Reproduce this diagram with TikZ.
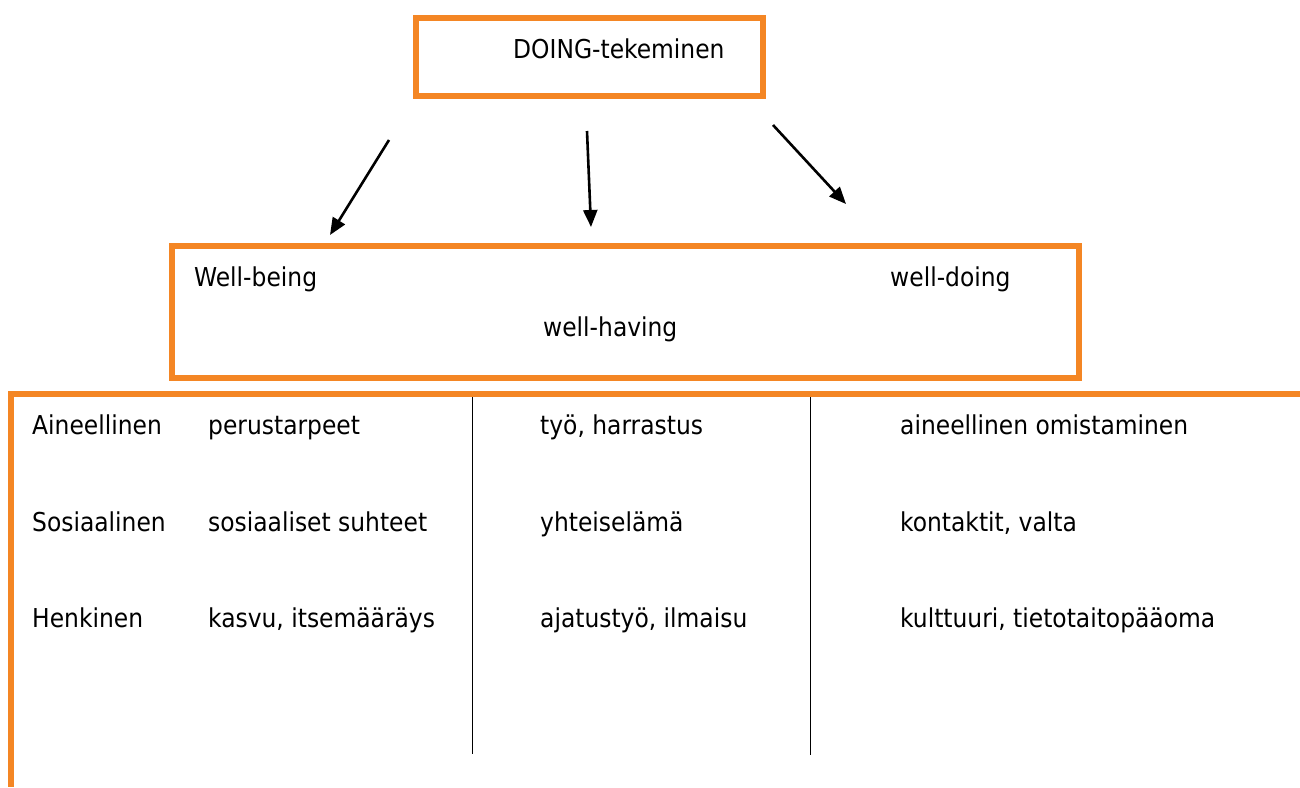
\documentclass[tikz,border=0pt]{standalone}
\usepackage{fontspec}
\setmainfont{DejaVu Sans Condensed}
\usetikzlibrary{arrows.meta}
\definecolor{boxorange}{RGB}{244,134,36}
\tikzset{
  obox/.style={draw=boxorange, line width=6pt, rectangle, inner sep=0pt},
  lbl/.style={anchor=base west, inner sep=0pt, font=\fontsize{26pt}{30pt}\selectfont},
  arr/.style={line width=2.6pt, -{Triangle[length=17pt,width=14pt]}},
  oline/.style={draw=boxorange, line width=6pt},
  bline/.style={draw=black, line width=1.4pt},
}
\begin{document}
\begin{tikzpicture}[x=1pt,y=-1pt]
\useasboundingbox (0,0) rectangle (1300,787);
% top box
\node[obox, minimum width=347.5pt, minimum height=78pt] (top) at (589.25,57) {};
\node[lbl] (doing) at (513,58) {DOING-tekeminen};
% middle box
\node[obox, minimum width=907.5pt, minimum height=132pt] (mid) at (625.25,312) {};
\node[lbl] (wb) at (194,286) {Well-being};
\node[lbl] (wd) at (890,286) {well-doing};
\node[lbl] (wh) at (543,336) {well-having};
% arrows
\coordinate (a1s) at (389,140);
\coordinate (a1e) at (330,235);
\coordinate (a2s) at (587,131);
\coordinate (a2e) at (591,227);
\coordinate (a3s) at (773,125);
\coordinate (a3e) at (846,204);
\draw[arr] (a1s) -- (a1e);
\draw[arr] (a2s) -- (a2e);
\draw[arr] (a3s) -- (a3e);
% table frame
\coordinate (tl) at (11,394);
\coordinate (tr) at (1300,394);
\coordinate (bl) at (11,787);
\draw[oline] (8,394) -- (tr);
\draw[oline] (tl) -- (bl);
\coordinate (v1t) at (472.5,397);
\coordinate (v1b) at (472.5,754);
\coordinate (v2t) at (810.5,397);
\coordinate (v2b) at (810.5,755);
\draw[bline] (v1t) -- (v1b);
\draw[bline] (v2t) -- (v2b);
% table text
\node[lbl] (r1a) at (32,434) {Aineellinen};
\node[lbl] (r2a) at (32,531) {Sosiaalinen};
\node[lbl] (r3a) at (32,627) {Henkinen};
\node[lbl] (r1b) at (208,434) {perustarpeet};
\node[lbl] (r2b) at (208,531) {sosiaaliset suhteet};
\node[lbl] (r3b) at (208,627) {kasvu, itsemääräys};
\node[lbl] (r1c) at (540,434) {työ, harrastus};
\node[lbl] (r2c) at (540,531) {yhteiselämä};
\node[lbl] (r3c) at (540,627) {ajatustyö, ilmaisu};
\node[lbl] (r1d) at (900,434) {aineellinen omistaminen};
\node[lbl] (r2d) at (900,531) {kontaktit, valta};
\node[lbl] (r3d) at (900,627) {kulttuuri, tietotaitopääoma};
\end{tikzpicture}
\end{document}
